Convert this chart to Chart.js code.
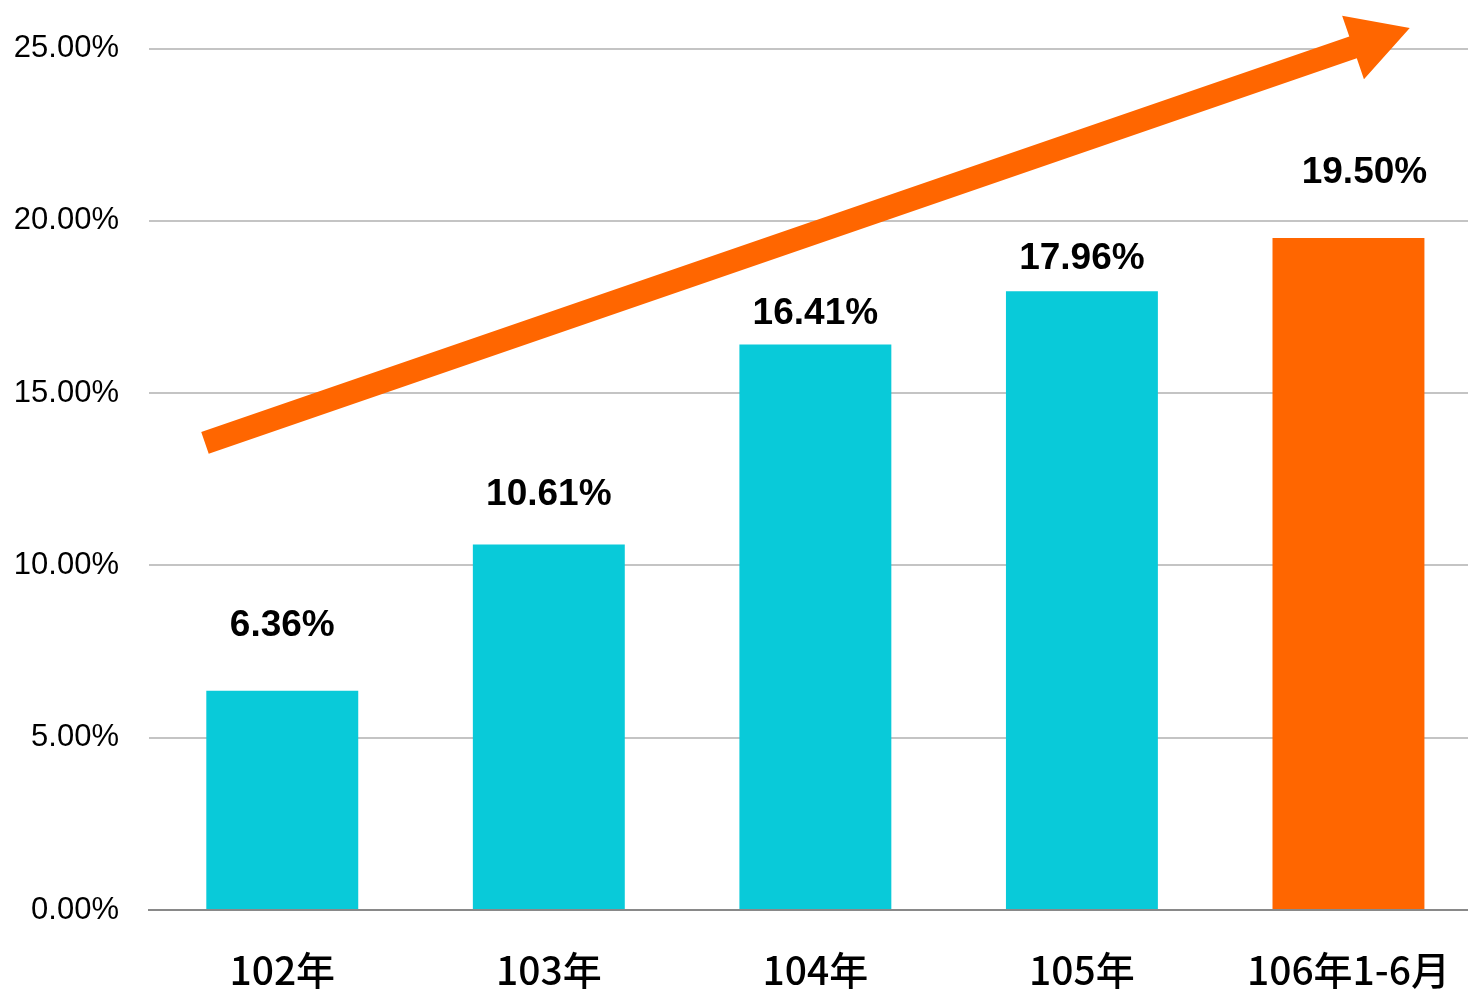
<!DOCTYPE html>
<html>
<head>
<meta charset="utf-8">
<script src="https://cdn.jsdelivr.net/npm/chart.js@4/dist/chart.umd.min.js"></script>
<style>
  html, body { margin: 0; padding: 0; background: #fff; overflow: hidden; }
  #wrap { width: 1487px; height: 990px; }
</style>
</head>
<body>
<div id="wrap"><canvas id="chart"></canvas></div>
<script>
const categories = ["102年", "103年", "104年", "105年", "106年1-6月"];
const values = [6.36, 10.61, 16.41, 17.96, 19.5];
const yTicks = [0, 5, 10, 15, 20, 25];

// trend arrow, in data units (category index, percent)
const arrowFrom = { x: -0.29, y: 13.56 };
const arrowTo = { x: 4.23, y: 25.6 };

const CYAN = "rgb(9, 202, 217)";
const ORANGE = "#ff6600";
const barColors = values.map((v, i) => (i === values.length - 1 ? ORANGE : CYAN));
// labels are not evenly placed above the bars (px)
const labelGaps = [65, 50, 31, 32, 65];
const labelShift = [0, 0, 0, 0, 16];

const valueLabels = {
  id: "valueLabels",
  afterDatasetsDraw(chart) {
    const c = chart.ctx;
    const meta = chart.getDatasetMeta(0);
    c.save();
    c.font = "bold 37px 'Liberation Sans', Arial, sans-serif";
    c.fillStyle = "#000";
    c.textAlign = "center";
    c.textBaseline = "middle";
    meta.data.forEach((bar, i) => {
      c.fillText(values[i].toFixed(2) + "%", bar.x + labelShift[i], bar.y - labelGaps[i]);
    });
    c.restore();
  },
};

const trendArrow = {
  id: "trendArrow",
  afterDatasetsDraw(chart) {
    const xs = chart.scales.x, ys = chart.scales.y;
    const x0 = xs.getPixelForValue(arrowFrom.x), y0 = ys.getPixelForValue(arrowFrom.y);
    const x1 = xs.getPixelForValue(arrowTo.x), y1 = ys.getPixelForValue(arrowTo.y);
    const len = Math.hypot(x1 - x0, y1 - y0);
    const ux = (x1 - x0) / len, uy = (y1 - y0) / len;
    const nx = -uy, ny = ux;
    const shaft = 11.5, head = 33.5, headLen = 60;
    const bx = x1 - ux * headLen, by = y1 - uy * headLen;
    const c = chart.ctx;
    c.save();
    c.fillStyle = ORANGE;
    c.beginPath();
    c.moveTo(x0 + nx * shaft, y0 + ny * shaft);
    c.lineTo(bx + nx * shaft, by + ny * shaft);
    c.lineTo(bx + nx * head, by + ny * head);
    c.lineTo(x1, y1);
    c.lineTo(bx - nx * head, by - ny * head);
    c.lineTo(bx - nx * shaft, by - ny * shaft);
    c.lineTo(x0 - nx * shaft, y0 - ny * shaft);
    c.closePath();
    c.fill();
    c.restore();
  },
};

new Chart(document.getElementById("chart"), {
  type: "bar",
  data: {
    labels: categories,
    datasets: [
      {
        data: values,
        backgroundColor: barColors,
        borderWidth: 0,
        barPercentage: 0.57,
        categoryPercentage: 1,
      },
    ],
  },
  options: {
    responsive: true,
    maintainAspectRatio: false,
    animation: false,
    layout: { padding: { top: 31, right: 0, left: 0, bottom: 0 } },
    plugins: { legend: { display: false }, tooltip: { enabled: false } },
    scales: {
      x: {
        afterFit(axis) { axis.height = 80; },
        grid: { display: false, drawTicks: false },
        border: { display: true, color: "#898989", width: 2 },
        ticks: {
          color: "#000",
          padding: 37,
          font: { family: "'Noto Sans CJK TC', 'Noto Sans', sans-serif", size: 39, weight: 500 },
        },
      },
      y: {
        min: 0,
        max: 25,
        afterFit(axis) { axis.width = 149; },
        afterBuildTicks(axis) {
          axis.ticks = yTicks.map((v) => ({ value: v }));
        },
        grid: { color: "#c4c4c4", lineWidth: 2, drawTicks: false },
        border: { display: false },
        ticks: {
          color: "#000",
          padding: 30,
          font: { family: "'Liberation Sans', Arial, sans-serif", size: 31 },
          callback: (v) => v.toFixed(2) + "%",
        },
      },
    },
  },
  plugins: [valueLabels, trendArrow],
});
</script>
</body>
</html>
